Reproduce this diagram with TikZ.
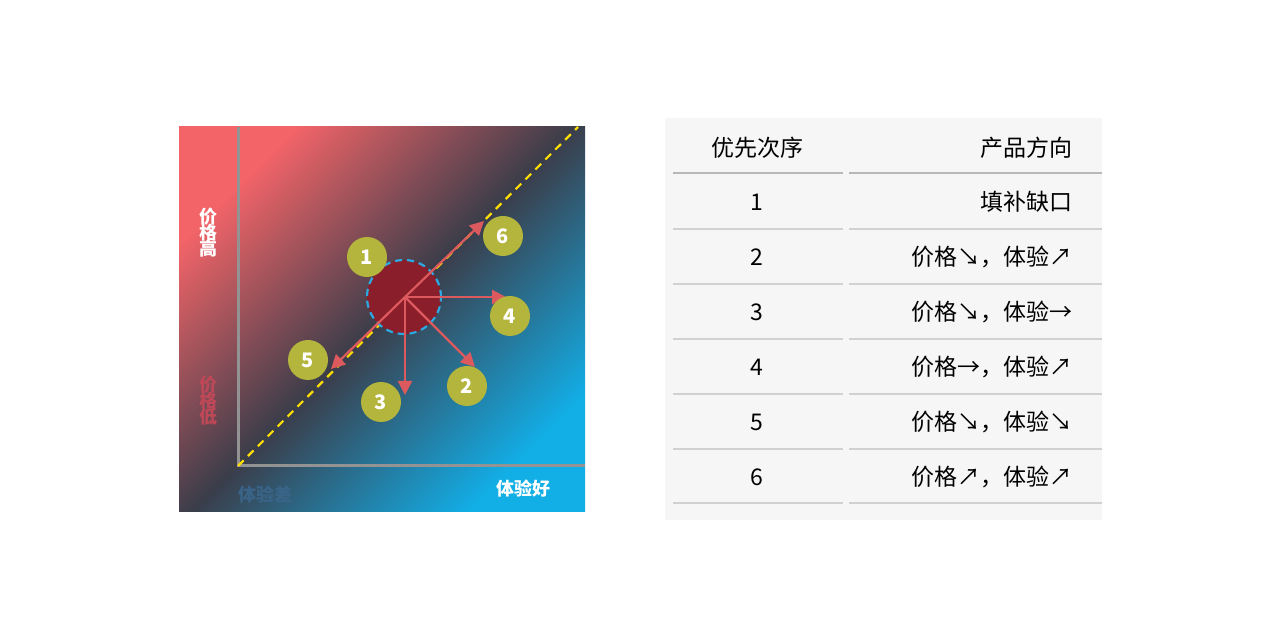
\documentclass[tikz,border=0pt]{standalone}
\usepackage{fontspec}
\setmainfont{Noto Sans CJK SC}
\newfontfamily\cjk{Noto Sans CJK SC}
\usetikzlibrary{arrows.meta}
\definecolor{redA}{HTML}{F26468}
\definecolor{darkA}{HTML}{3B3D4A}
\definecolor{cyanA}{HTML}{12AEE6}
\definecolor{olive}{HTML}{B4B53C}
\definecolor{circ}{HTML}{8A1E2A}
\definecolor{dash}{HTML}{2EA8E0}
\definecolor{arr}{HTML}{DC5A5E}
\definecolor{tbl}{HTML}{F6F6F6}
\pgfdeclarehorizontalshading{diagsh}{100bp}{color(0bp)=(redA); color(25bp)=(redA); color(50bp)=(darkA); color(75bp)=(cyanA); color(100bp)=(cyanA)}
\begin{document}
\begin{tikzpicture}[x=1pt,y=1pt,
  num/.style={circle,fill=olive,minimum size=40pt,inner sep=0pt,text=white,font=\fontsize{20}{20}\selectfont\bfseries},
  dir/.style={draw=arr,line width=2.2pt,-{Triangle[length=14pt,width=14pt]}},
  lab/.style={font=\fontsize{18}{20}\selectfont\bfseries},
  cell/.style={font=\fontsize{23}{24}\selectfont,text=black},
  hline/.style={draw=black!18,line width=1.5pt}]
\useasboundingbox (0,0) rectangle (1280,640);
% chart
\begin{scope}
\clip (179,128) rectangle (585,513);
\shade[shading=diagsh,shading angle=-45] (179,128) rectangle (585,513);
\end{scope}
\draw[color=gray!85,line width=3pt] (238,513) -- (238,174) -- (585,174);
\coordinate (o) at (238,174);
\coordinate (e) at (578,513);
\draw[color=yellow!80!orange,line width=2.2pt,dash pattern=on 8pt off 6pt] (o) -- (e);
\node[circle,minimum size=74pt,inner sep=0pt,fill=circ,draw=dash,line width=2.2pt,dash pattern=on 7pt off 5pt] (c) at (404,343) {};
\coordinate (cc) at (405,343);
\coordinate (t6) at (484,419);
\coordinate (t4) at (506,343);
\coordinate (t2) at (475,273);
\coordinate (t3) at (405,245);
\coordinate (t5) at (331,271);
\foreach \t in {t6,t4,t2,t3,t5} \draw[dir] (cc) -- (\t);
\node[num] (n1) at (367,383) {1};
\node[num] (n6) at (503,404) {6};
\node[num] (n4) at (510,324) {4};
\node[num] (n5) at (308,280) {5};
\node[num] (n3) at (381,238) {3};
\node[num] (n2) at (467,254) {2};
\node[lab,text=white,align=center] (hi) at (208,407) {价\\[-4pt]格\\[-4pt]高};
\node[lab,text=red!55!black!80!white,text opacity=1,align=center,color={rgb,255:red,190;green,72;blue,88}] (lo) at (208,239) {价\\[-4pt]格\\[-4pt]低};
\node[lab,color={rgb,255:red,58;green,100;blue,135}] (bad) at (265,145) {体验差};
\node[lab,text=white] (good) at (523,151) {体验好};
% table
\fill[tbl] (665,120) rectangle (1102,522);
\node[cell] (h1) at (757,492) {优先次序};
\node[cell,anchor=east] (h2) at (1076,492) {产品方向};
\draw[draw=black!28,line width=2pt] (673,467) -- (843,467) (849,467) -- (1102,467);
\foreach \y in {411,356,301,246,191,137} \draw[hline] (673,\y) -- (843,\y) (849,\y) -- (1102,\y);
\foreach \i/\y/\t in {1/438/填补缺口,2/383/价格↘，体验↗,3/328/价格↘，体验→,4/273/价格→，体验↗,5/218/价格↘，体验↘,6/163/价格↗，体验↗}{
  \node[cell] (r\i a) at (757,\y) {\i};
  \node[cell,anchor=east] (r\i b) at (1076,\y) {\t};
}
\end{tikzpicture}
\end{document}
